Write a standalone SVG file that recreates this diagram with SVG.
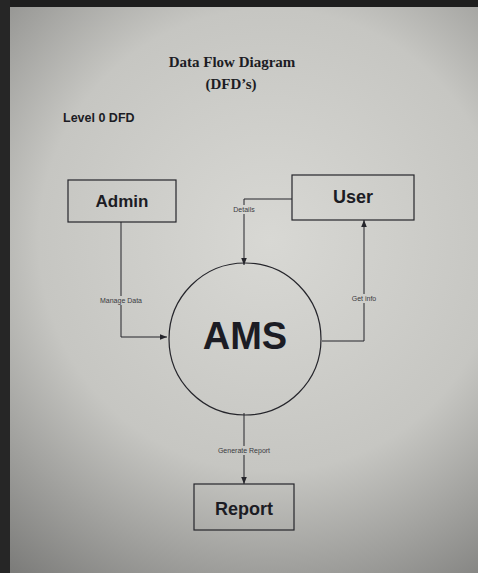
<svg xmlns="http://www.w3.org/2000/svg" width="478" height="573" viewBox="0 0 478 573">
<defs>
<radialGradient id="bg" gradientUnits="userSpaceOnUse" cx="270" cy="240" r="420">
<stop offset="0" stop-color="#d8d8d4"/>
<stop offset="0.55" stop-color="#c6c6c2"/>
<stop offset="1" stop-color="#7c7c7a"/>
</radialGradient>
<marker id="arr" viewBox="0 0 10 10" refX="10" refY="5" markerWidth="7" markerHeight="7" orient="auto-start-reverse" markerUnits="userSpaceOnUse">
<path d="M0,1 L10,5 L0,9 z" fill="#25252b"/>
</marker>
<style>
.box{fill:none;stroke:#25252b;stroke-width:1.2}
.edge{fill:none;stroke:#25252b;stroke-width:1}
.lbl{font-family:"Liberation Sans",Arial,sans-serif;font-size:7px;fill:#3a3a40;text-anchor:middle}
.name{font-family:"Liberation Sans",Arial,sans-serif;font-weight:bold;fill:#1c1c24;text-anchor:middle}
.ttl{font-family:"Liberation Serif","Times New Roman",serif;font-weight:bold;font-size:15px;fill:#1c1c24;text-anchor:middle}
.gap{fill:url(#bg)}
</style>
</defs>
<rect width="478" height="573" fill="url(#bg)"/>
<rect x="0" y="0" width="478" height="7" fill="#1e1e1e"/>
<rect x="0" y="0" width="10" height="573" fill="#262626"/>
<text class="ttl" x="232" y="67">Data Flow Diagram</text>
<text class="ttl" x="231" y="89">(DFD’s)</text>
<text class="name" x="63" y="122" style="font-size:12.5px;text-anchor:start">Level 0 DFD</text>
<g id="connectors">
<path class="edge" d="M121,222 V337 H167" marker-end="url(#arr)"/>
<path class="edge" d="M292,199 H244 V265" marker-end="url(#arr)"/>
<path class="edge" d="M322,341 H364 V220" marker-end="url(#arr)"/>
<path class="edge" d="M244,413 V484" marker-end="url(#arr)"/>
<rect class="gap" x="99" y="296" width="44" height="9"/>
<text class="lbl" x="121" y="303">Manage Data</text>
<rect class="gap" x="232" y="205" width="24" height="9"/>
<text class="lbl" x="244" y="212">Details</text>
<rect class="gap" x="350" y="294" width="28" height="9"/>
<text class="lbl" x="364" y="301">Get info</text>
<rect class="gap" x="213" y="446" width="62" height="9"/>
<text class="lbl" x="244" y="453">Generate Report</text>
</g>
<g id="admin">
<rect class="box" x="68" y="180" width="108" height="42"/>
<text class="name" x="122" y="207" style="font-size:17px">Admin</text>
</g>
<g id="user">
<rect class="box" x="292" y="175" width="122" height="45"/>
<text class="name" x="353" y="203" style="font-size:18px">User</text>
</g>
<g id="ams">
<circle class="box" cx="245" cy="339" r="76"/>
<text class="name" x="245" y="349" style="font-size:38px">AMS</text>
</g>
<g id="report">
<rect class="box" x="194" y="484" width="100" height="46"/>
<text class="name" x="244" y="515" style="font-size:18px">Report</text>
</g>
</svg>
